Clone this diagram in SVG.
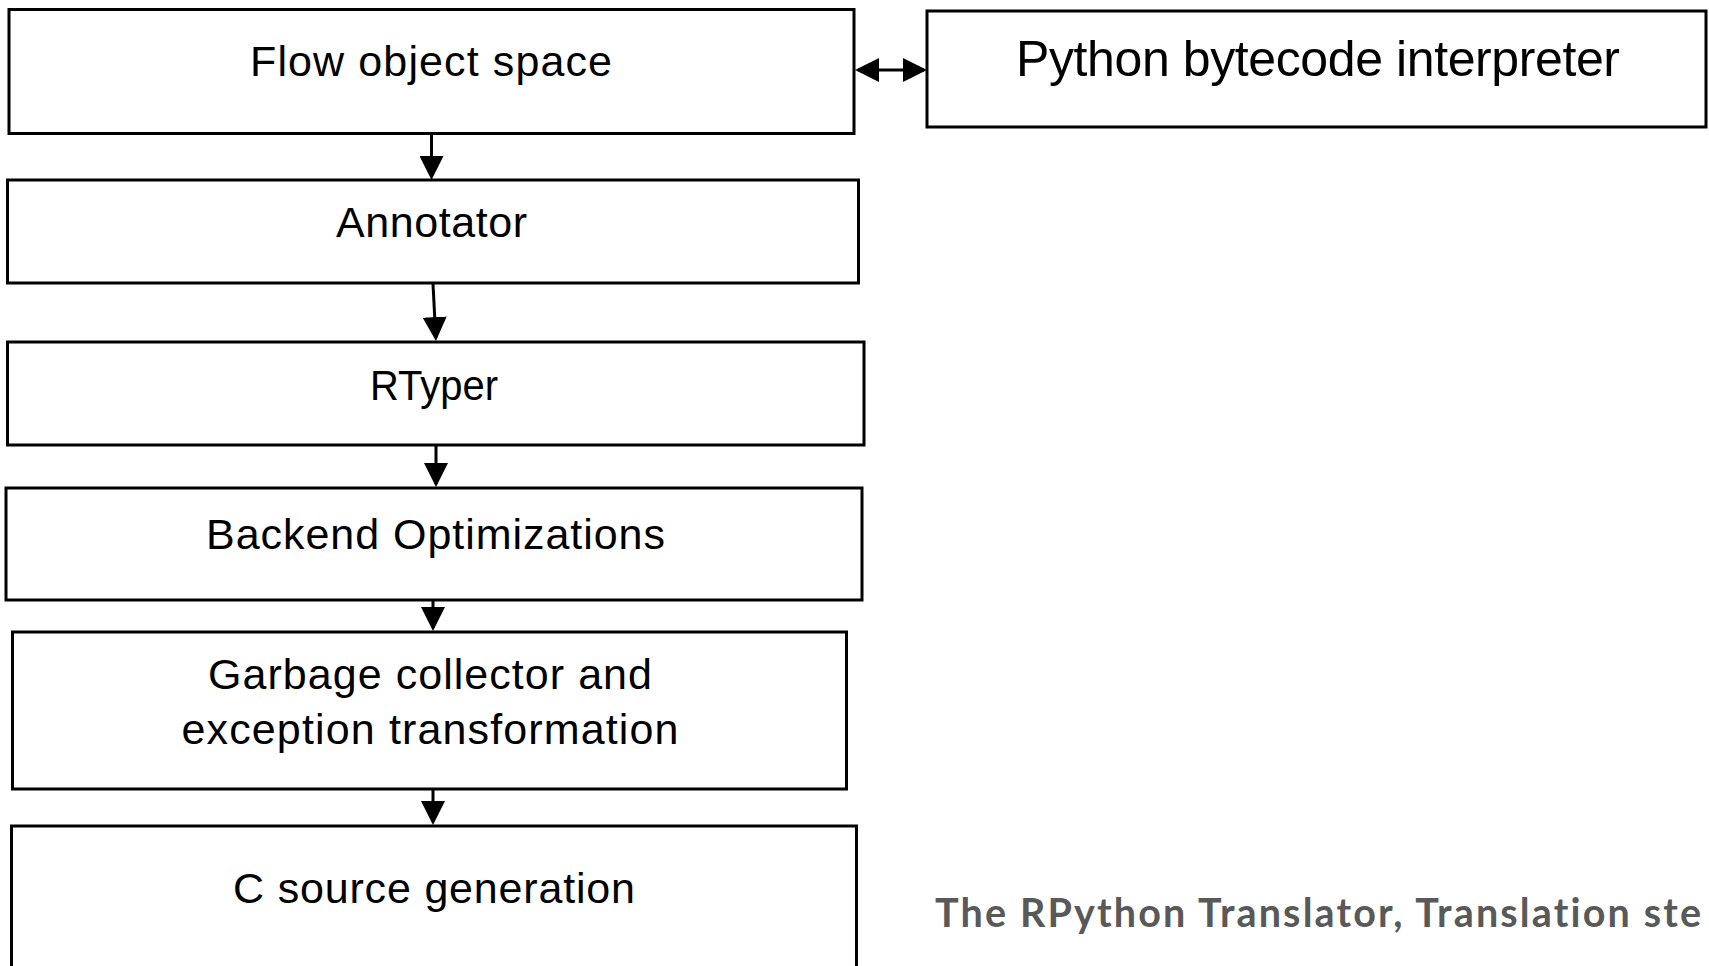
<svg xmlns="http://www.w3.org/2000/svg" width="1709" height="966" viewBox="0 0 1709 966">
  <style>
    .box { fill: #ffffff; stroke: #000000; stroke-width: 3; }
    .lbl { font-family: "Liberation Sans", Arial, Helvetica, sans-serif; font-size: 43px; fill: #000000; text-anchor: middle; }
    .big { font-size: 50px; }
    .conn { stroke: #000000; stroke-width: 3; fill: none; }
    .cap { font-family: Lato, "Open Sans", "Liberation Sans", sans-serif; font-weight: bold; font-size: 39.5px; fill: #595959; font-variant-ligatures: none; }
  </style>
  <defs>
    <marker id="arr" viewBox="0 0 24 24" refX="21" refY="12" markerWidth="24" markerHeight="24" markerUnits="userSpaceOnUse" orient="auto-start-reverse">
      <path d="M0,0 L24,12 L0,24 z" fill="#000000"/>
    </marker>
  </defs>
  <rect width="1709" height="966" fill="#ffffff"/>

  <g id="flow-object-space">
    <rect class="box" x="9" y="9.5" width="845" height="124"/>
    <text class="lbl" x="431" y="75.5" textLength="362" lengthAdjust="spacing">Flow object space</text>
  </g>
  <g id="python-bytecode-interpreter">
    <rect class="box" x="927" y="11" width="779" height="116"/>
    <text class="lbl big" x="1318" y="75.5" textLength="604" lengthAdjust="spacing">Python bytecode interpreter</text>
  </g>
  <g id="annotator">
    <rect class="box" x="7.5" y="180" width="851" height="103"/>
    <text class="lbl" x="431.5" y="236.5" textLength="191" lengthAdjust="spacing">Annotator</text>
  </g>
  <g id="rtyper">
    <rect class="box" x="7.5" y="342" width="856.5" height="103"/>
    <text class="lbl" x="434" y="400" textLength="128" lengthAdjust="spacingAndGlyphs">RTyper</text>
  </g>
  <g id="backend-optimizations">
    <rect class="box" x="6" y="488" width="856" height="112"/>
    <text class="lbl" x="435.5" y="548.5" textLength="459" lengthAdjust="spacing">Backend Optimizations</text>
  </g>
  <g id="gc-exception">
    <rect class="box" x="12.5" y="632" width="834" height="157"/>
    <text class="lbl" x="430" y="688.5" textLength="444" lengthAdjust="spacing">Garbage collector and</text>
    <text class="lbl" x="430" y="743.5" textLength="497" lengthAdjust="spacing">exception transformation</text>
  </g>
  <g id="c-source-generation">
    <rect class="box" x="11.5" y="826" width="845" height="200"/>
    <text class="lbl" x="434" y="902.5" textLength="402" lengthAdjust="spacing">C source generation</text>
  </g>

  <g id="connectors">
    <line class="conn" x1="858" y1="70" x2="924" y2="70" marker-start="url(#arr)" marker-end="url(#arr)"/>
    <line class="conn" x1="431.5" y1="134" x2="431.5" y2="177" marker-end="url(#arr)"/>
    <line class="conn" x1="433" y1="284" x2="435.8" y2="338" marker-end="url(#arr)"/>
    <line class="conn" x1="436" y1="446" x2="436" y2="484" marker-end="url(#arr)"/>
    <line class="conn" x1="433" y1="601" x2="433" y2="628" marker-end="url(#arr)"/>
    <line class="conn" x1="433" y1="790" x2="433" y2="822" marker-end="url(#arr)"/>
  </g>

  <text class="cap" x="935" y="926.5" textLength="766" lengthAdjust="spacing">The RPython Translator, Translation ste</text>
</svg>
